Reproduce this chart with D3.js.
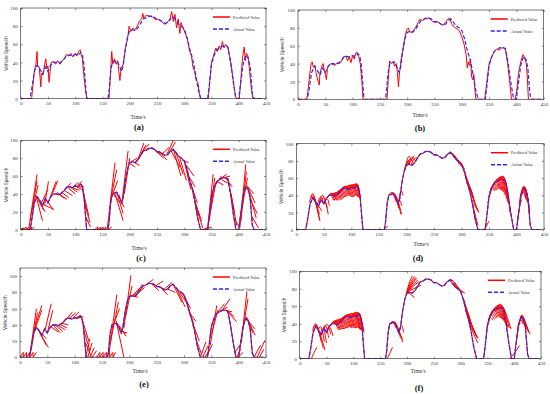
<!DOCTYPE html>
<html>
<head>
<meta charset="utf-8">
<script src="https://cdn.jsdelivr.net/npm/d3@7"></script>
<style>
	body { margin: 0; background: #fff; }
	svg text { font-family: "Liberation Serif", "Times New Roman", serif; }
</style>
</head>
<body>
<div id="svg-container"></div>
<script>

// measured speed, same drive cycle in every panel
var actualTime = [0,17,20,25,30,35,40,45,50,55,60,65,70,75,80,85,90,95,100,105,110,113,116,119,121,160,162,165,168,172,176,180,185,188,192,196,200,205,210,215,220,225,230,235,240,245,250,255,260,265,270,275,280,285,290,295,300,305,310,315,320,325,330,343,346,350,355,360,365,370,375,380,385,390,395,400,403,408,413,418,421,425,428,445];
var actualSpeed = [0,0,10,30,37,33,27,35,30,37,40,40,39,41,44,48,48,47,49,48,51,49,38,15,0,0,8,30,40,41,42,38,30,36,55,68,75,76,75,78,83,88,89,91,91,90,87,87,85,83,84,88,90,86,82,80,77,68,55,45,30,12,0,0,15,38,48,54,56,58,58,57,40,18,0,0,15,38,48,44,35,5,0,0];

var xTicks = [0,50,100,150,200,250,300,350,400,450];
var yTicks = [0,20,40,60,80,100];
var panelLabels = ['(a)','(b)','(c)','(d)','(e)','(f)'];
var legendLabels = ['Predicted Value','Actual Value'];
var xLabel = 'Time/s';
var yLabel = 'Vehicle Speed/h';

// predicted trajectories, each one flat: t, v, t, v, ...
var predA = [
	[0,0,20,0,22,12,25,30,28,38,30,52,31,36,34,35,37,13,38,28,41,26,44,38,46,44,48,33,50,36,52,18,54,30,56,40,60,41,64,38,68,42,72,38,76,42,80,44,84,49,88,47,92,50,96,46,100,50,103,47,106,52,109,54,111,48,113,45,116,25,119,8,122,0,162,0,165,30,167,52,169,38,172,44,175,38,178,42,180,30,182,20,184,33,188,38,192,55,196,66,199,80,202,74,206,78,210,76,214,80,218,86,222,88,224,94,226,88,230,92,236,91,242,90,248,87,252,88,256,86,260,84,265,82,270,85,274,88,277,96,280,85,283,93,286,78,289,88,292,72,294,84,298,78,302,72,306,65,310,52,313,48,316,35,319,30,322,20,325,18,328,5,331,0,344,0,347,20,350,40,354,48,358,56,361,52,364,58,367,54,370,63,373,56,376,60,380,57,383,48,386,38,390,20,394,2,397,0,401,0,404,22,407,45,410,57,412,42,414,50,417,47,420,30,423,12,426,0,440,0]
];

var predB = [
	[0,0,16,0,18,8,21,25,24,40,26,42,28,36,31,38,33,30,35,24,37,20,39,16,40,28,43,36,46,40,48,33,50,28,52,22,54,35,57,38,60,40,64,39,68,38,72,41,76,40,80,43,84,48,88,48,91,43,94,48,97,41,100,49,103,45,106,52,108,53,111,48,114,40,117,20,119,0,163,0,165,20,168,43,171,40,174,42,177,37,180,40,182,30,184,14,186,30,189,45,192,55,196,70,199,78,202,80,205,75,210,76,215,80,220,86,224,90,228,88,232,91,236,90,240,91,245,88,250,86,255,87,260,85,265,83,270,86,275,90,278,91,281,85,284,82,288,80,292,79,296,76,300,70,304,62,308,50,310,35,312,42,314,38,316,45,318,25,320,22,322,28,324,10,326,0,342,0,346,20,350,40,355,48,360,54,364,56,368,55,372,57,376,58,380,55,384,40,388,18,391,0,398,0,401,12,404,30,408,42,412,50,415,47,418,40,420,25,422,0,446,0]
];

var predC = [
	[0,0,5,2,5,0,10,3,10,0,15,3,15,0,20,3,20,0,25,3],
	[136,0,141,3,141,0,146,3,146,0,151,3,151,0,156,3,156,0,161,3,161,0,167,3],
	[15,2,30,62],[17,10,30,55],[20,20,32,50],[28,38,40,10],[30,36,42,22],[33,33,45,20],
	[44,28,51,54],[38,30,50,45],[42,28,60,23],[48,33,60,22],[54,36,65,54],[58,40,68,55],
	[66,42,80,35],[70,40,85,34],[75,42,88,36],[80,44,95,38],[85,48,100,40],[90,48,104,42],
	[95,47,108,44],[100,49,112,45],[105,48,116,48],[82,45,92,52],[96,48,106,53],[104,49,112,54],
	[112,50,120,22],[115,42,125,15],[117,30,127,8],[119,15,128,3],
	[159,2,173,75],[164,30,176,67],[166,35,178,55],
	[172,42,188,10],[176,42,188,18],[180,38,190,25],[170,40,182,30],
	[186,32,197,88],[190,40,200,80],
	[198,75,210,70],[202,76,214,80],[206,76,218,72],[210,75,222,85],
	[216,80,226,97],[220,84,230,95],[224,88,236,96],[230,89,242,92],
	[268,84,280,100],[272,86,284,98],[280,90,294,60],[284,88,298,62],[276,88,292,70],
	[250,87,262,80],[255,87,268,78],[260,85,272,92],[245,90,258,84],
	[292,80,304,55],[296,78,308,75],[300,77,312,45],[304,72,318,60],[308,60,320,48],
	[312,52,324,30],[316,40,328,15],[320,30,332,10],[322,25,334,2],
	[334,0,345,3],[338,0,350,3],
	[343,2,353,62],[346,10,356,58],[348,20,358,52],
	[355,48,368,60],[360,54,372,50],[364,56,378,62],[368,56,380,52],[372,58,384,60],[376,58,388,48],
	[380,57,392,20],[386,40,396,5],[392,12,402,2],
	[402,2,413,73],[404,10,414,65],[406,25,416,58],
	[414,50,428,40],[416,48,430,30],[418,44,432,13],[420,35,434,18],[424,15,436,2]
];

var predD = [
	[24,32,30,42,36,30],[26,36,32,38,42,12],[28,37,34,34,43,10],[30,37,36,30,42,18],
	[33,33,40,28,46,22],[38,28,44,38,50,30],[42,32,48,40,56,25],[46,36,52,35,58,18],[50,30,56,36,60,28],
	[56,37,62,41,68,34],[60,40,66,42,72,35],[64,40,70,42,76,34],[68,39,74,43,80,35],
	[72,40,78,45,84,36],[76,42,82,47,88,38],[80,44,86,49,92,39],[84,47,90,50,96,40],
	[88,48,94,50,100,38],[92,48,98,51,104,38],[96,48,102,52,108,40],[100,49,106,52,112,38],
	[104,48,110,53,115,37],[108,50,112,52,117,35],
	[58,38,64,42,70,34],[62,40,68,42,74,34],[66,40,72,43,78,35],[70,39,76,44,82,35],
	[74,41,80,46,86,37],[78,43,84,48,90,38],[82,46,88,50,94,39],[86,48,92,50,98,39],
	[90,48,96,51,102,38],[94,47,100,52,106,39],[98,48,104,52,110,39],[102,48,108,53,114,37],[106,49,111,52,116,36],
	[158,0,162,2,166,4],
	[168,40,174,43,182,32],[172,41,178,42,186,25],[176,42,182,38,190,18],[180,38,185,33,191,18],
	[184,32,188,34,192,28],[186,32,190,45,194,40],
	[196,68,202,80,206,76],[198,72,204,85,210,80],[200,75,206,82,212,78],[202,76,208,80,214,86],
	[204,76,210,84,216,80],[208,75,214,82,220,84],
	[276,88,284,88,292,80],[280,90,288,86,296,76],[284,86,292,82,300,74],[288,83,296,78,304,70],[292,81,300,76,306,70],
	[306,68,312,55,318,45],[310,55,316,48,322,38],[314,46,318,42,326,28],[316,40,322,35,330,22],
	[320,30,326,26,332,20],[322,25,326,15,330,5],
	[308,62,314,52,320,42],[312,50,317,45,324,33],[318,35,324,30,331,21],
	[342,0,346,5,350,10],
	[348,30,354,48,360,45],[352,44,358,52,364,46],[356,50,362,56,368,48],[360,54,366,58,372,46],
	[364,56,370,60,376,44],[368,56,374,61,380,40],[372,58,378,60,384,33],[376,58,380,56,386,30],[380,56,384,45,388,20],
	[350,38,356,50,362,46],[354,48,360,54,366,47],[358,52,364,57,370,47],[362,55,368,59,374,45],
	[366,56,372,61,378,42],[370,57,376,61,382,36],[374,58,379,58,385,31],
	[402,10,406,28,410,35],[405,30,410,45,416,38],[408,40,413,50,418,34],[411,46,416,48,422,30],
	[414,47,418,45,424,22],[417,44,420,38,424,18],
	[407,36,412,48,417,36],[410,44,415,50,420,32],[413,47,417,47,423,26]
];

var predE = [
	[0,0,6,6,6,0,12,6,12,0,18,6,18,0,24,6,24,0,30,6],
	[140,0,146,6,146,0,152,6,152,0,158,6,158,0,164,6,164,0,170,6,170,0,175,6],
	[18,2,30,60],[20,8,32,55],[24,30,40,64],[28,36,40,58],[30,36,48,23],[34,33,48,15],[38,28,52,12],
	[46,34,57,66],[50,30,60,58],
	[56,38,70,31],[60,40,74,30],[64,40,78,32],[68,40,82,34],[72,41,86,36],[76,42,88,40],
	[84,46,96,56],[90,48,102,55],[96,48,108,56],[100,48,112,52],[104,48,116,50],
	[113,48,126,20],[116,35,128,8],[118,20,130,2],
	[120,0,128,23],[124,0,132,18],[128,0,136,12],[132,0,140,8],
	[163,5,177,77],[166,20,180,68],[168,35,182,60],
	[176,45,190,0],[178,42,192,28],[182,38,194,26],[185,32,196,30],
	[190,36,203,101],[193,50,205,88],
	[198,74,212,78],[202,76,216,74],[206,76,220,86],[210,75,224,90],[214,78,228,86],
	[230,89,244,96],[240,91,254,82],[248,88,262,94],[256,87,270,77],[264,84,278,92],[270,84,284,80],
	[280,90,296,68],[286,86,302,62],[292,80,308,64],[298,78,312,60],[304,70,318,40],
	[310,55,322,44],[316,42,328,20],[322,22,332,4],
	[330,0,340,19],[334,0,344,14],[338,0,346,8],[342,2,352,16],
	[348,15,360,64],[350,28,362,58],
	[360,54,374,66],[366,56,380,62],[370,58,384,72],[374,58,388,56],[378,58,392,50],[380,56,396,44],
	[392,5,402,15],[396,0,404,10],[399,0,408,6],
	[405,18,415,81],[408,35,417,72],
	[414,50,426,30],[416,48,430,27],[418,44,430,35],
	[428,0,440,15],[434,0,448,21],[438,0,446,10]
];

var predF = [
	[22,0,26,6,32,13],
	[24,32,30,40,36,30],[26,35,32,38,40,20],[28,37,35,32,44,12],[30,37,38,28,47,10],
	[34,32,40,36,46,20],[38,27,44,34,50,18],[42,30,48,38,54,24],[46,35,52,39,58,28],[50,30,56,36,62,26],
	[56,37,64,42,72,33],[60,40,68,43,76,33],[64,40,72,44,80,34],[68,39,76,45,84,34],
	[72,40,80,46,88,35],[76,42,84,48,92,36],[80,44,88,49,96,35],[84,47,92,50,100,36],
	[88,48,96,50,104,35],[92,48,100,51,108,36],[96,48,104,51,112,34],[100,49,106,52,114,33],
	[104,48,110,52,118,32],[108,50,113,50,120,30],
	[58,38,66,43,74,33],[62,40,70,44,78,34],[66,40,74,45,82,34],[70,39,78,46,86,35],
	[74,41,82,47,90,35],[78,43,86,49,94,36],[82,46,90,50,98,35],[86,48,94,50,102,35],
	[90,48,98,51,106,35],[94,47,102,51,110,35],[98,48,105,52,113,33],[102,48,108,52,116,32],[106,49,112,51,119,31],
	[163,0,168,6,173,13],
	[166,35,172,42,180,35],[170,40,176,42,184,30],[174,41,180,38,188,24],[178,42,184,34,192,19],
	[182,36,186,30,192,22],[186,32,190,38,194,30],
	[198,72,204,86,210,95],[199,74,206,86,214,94],[200,75,208,84,218,92],[201,76,210,82,222,88],
	[202,76,212,80,226,84],[200,76,206,74,214,70],[201,76,206,80,212,78],
	[199,75,207,85,216,93],[200,76,209,83,220,90],
	[276,88,284,90,292,82],[280,90,288,88,296,80],[284,86,292,84,300,78],[288,83,296,80,304,76],[292,81,300,78,308,75],
	[306,68,312,55,318,42],[308,62,314,52,322,35],[310,55,316,46,326,30],[312,50,318,42,330,25],
	[314,46,320,38,333,23],[316,40,322,32,332,18],
	[309,58,315,50,324,32],[311,52,317,44,328,28],[313,48,319,40,331,24],
	[348,30,354,46,360,44],[352,44,358,52,366,46],[356,50,362,56,370,48],[360,54,366,58,376,46],
	[364,56,370,60,380,44],[368,56,374,61,384,40],[372,58,378,60,388,36],[376,58,382,56,394,34],
	[350,38,356,50,363,45],[354,48,360,54,368,47],[358,52,364,57,373,47],[362,55,368,59,378,45],
	[366,56,372,61,382,42],[370,57,376,61,386,38],[374,58,380,58,391,35],
	[392,0,400,6,410,15],
	[404,20,408,38,412,40],[406,32,411,44,416,40],[409,40,414,48,420,38],[412,47,416,49,424,35],
	[415,47,419,44,428,30],[418,44,422,36,430,28],
	[408,38,413,46,418,39],[411,45,415,49,422,36],[414,47,418,46,426,32]
];

var predictions = [predA, predB, predC, predD, predE, predF];

// panel boxes in page pixels
var layout = [
	{ x0: 20.7,  x1: 266,   y0: 8,     y1: 98.7,  yMax: 100, smooth: false, base: false, timeX: 138, timeY: 119, labX: 139, labY: 130, yLabX: 8 },
	{ x0: 298,   x1: 543.7, y0: 10,    y1: 99.3,  yMax: 100, smooth: false, base: false, timeX: 420, timeY: 117, labX: 420, labY: 131, yLabX: 284 },
	{ x0: 20.7,  x1: 266,   y0: 140.3, y1: 229.7, yMax: 100, smooth: false, base: true,  timeX: 139, timeY: 250, labX: 141, labY: 261, yLabX: 8 },
	{ x0: 296.3, x1: 544,   y0: 143.7, y1: 229.7, yMax: 100, smooth: true,  base: true,  timeX: 421, timeY: 246, labX: 418, labY: 261, yLabX: 283 },
	{ x0: 20,    x1: 266,   y0: 268,   y1: 357.3, yMax: 110, smooth: false, base: true,  timeX: 140, timeY: 373, labX: 144, labY: 387, yLabX: 7 },
	{ x0: 299.7, x1: 541,   y0: 271.3, y1: 358.7, yMax: 100, smooth: true,  base: true,  timeX: 418, timeY: 373, labX: 419, labY: 391, yLabX: 286 }
];

var red = '#ff0000';
var blue = '#2a2af5';

var svg = d3.select('#svg-container')
	.append('svg')
	.attr('width', 550)
	.attr('height', 394);

var actualPoints = actualTime.map(function(t, i) { return [t, actualSpeed[i]]; });

function toPairs(flat) {
	var pts = [];
	for (var i = 0; i < flat.length; i += 2) pts.push([flat[i], flat[i + 1]]);
	return pts;
}

function drawPanel(p, i) {
	var x = d3.scaleLinear().domain([0, 450]).range([p.x0, p.x1]);
	var y = d3.scaleLinear().domain([0, p.yMax]).range([p.y1, p.y0]);

	var g = svg.append('g').attr('class', 'panel');

	g.append('clipPath')
		.attr('id', 'clip' + i)
		.append('rect')
			.attr('x', p.x0)
			.attr('y', p.y0)
			.attr('width', p.x1 - p.x0)
			.attr('height', p.y1 - p.y0);

	var plot = g.append('g').attr('clip-path', 'url(#clip' + i + ')');

	var straight = d3.line()
		.x(function(d) { return x(d[0]); })
		.y(function(d) { return y(d[1]); });

	var curved = d3.line()
		.x(function(d) { return x(d[0]); })
		.y(function(d) { return y(d[1]); })
		.curve(d3.curveNatural);

	if (p.base) {
		plot.append('path')
			.attr('d', straight(actualPoints))
			.attr('fill', 'none')
			.attr('stroke', red)
			.attr('stroke-width', 1.1);
	}

	predictions[i].forEach(function(flat) {
		var pts = toPairs(flat);
		var gen = (p.smooth && pts.length === 3) ? curved : straight;
		plot.append('path')
			.attr('d', gen(pts))
			.attr('fill', 'none')
			.attr('stroke', red)
			.attr('stroke-width', 1);
	});

	plot.append('path')
		.attr('d', straight(actualPoints))
		.attr('fill', 'none')
		.attr('stroke', blue)
		.attr('stroke-width', 1.2)
		.attr('stroke-dasharray', '4,2');

	// axes, ticks point inwards on all four sides
	var bottom = g.append('g')
		.attr('transform', 'translate(0,' + p.y1 + ')')
		.call(d3.axisBottom(x).tickValues(xTicks).tickSize(-2).tickPadding(3));
	var top = g.append('g')
		.attr('transform', 'translate(0,' + p.y0 + ')')
		.call(d3.axisTop(x).tickValues(xTicks).tickSize(-2).tickFormat(''));
	var left = g.append('g')
		.attr('transform', 'translate(' + p.x0 + ',0)')
		.call(d3.axisLeft(y).tickValues(yTicks).tickSize(-2).tickPadding(3));
	var right = g.append('g')
		.attr('transform', 'translate(' + p.x1 + ',0)')
		.call(d3.axisRight(y).tickValues(yTicks).tickSize(-2).tickFormat(''));

	[bottom, top, left, right].forEach(function(a) {
		a.select('.domain').remove();
		a.selectAll('.tick line').attr('stroke', '#222').attr('stroke-width', 0.5);
		a.selectAll('.tick text')
			.attr('fill', '#333')
			.style('font-size', '5px')
			.style('font-family', '"Liberation Serif", serif');
	});

	g.append('rect')
		.attr('x', p.x0)
		.attr('y', p.y0)
		.attr('width', p.x1 - p.x0)
		.attr('height', p.y1 - p.y0)
		.attr('fill', 'none')
		.attr('stroke', '#222')
		.attr('stroke-width', 0.6);

	// legend
	var lx = p.x1 - 53;
	var ly = [p.y0 + 9, p.y0 + 21];
	g.append('line')
		.attr('x1', lx).attr('x2', lx + 17)
		.attr('y1', ly[0]).attr('y2', ly[0])
		.attr('stroke', red)
		.attr('stroke-width', 1.5);
	g.append('line')
		.attr('x1', lx).attr('x2', lx + 17)
		.attr('y1', ly[1]).attr('y2', ly[1])
		.attr('stroke', blue)
		.attr('stroke-width', 1.5)
		.attr('stroke-dasharray', '4,2');
	legendLabels.forEach(function(txt, k) {
		g.append('text')
			.attr('x', lx + 20)
			.attr('y', ly[k] + 1.5)
			.attr('fill', '#333')
			.style('font-size', '4.3px')
			.text(txt);
	});

	g.append('text')
		.attr('x', p.timeX)
		.attr('y', p.timeY)
		.attr('text-anchor', 'middle')
		.attr('fill', '#333')
		.style('font-size', '5.5px')
		.text(xLabel);

	g.append('text')
		.attr('transform', 'translate(' + p.yLabX + ',' + ((p.y0 + p.y1) / 2) + ') rotate(-90)')
		.attr('text-anchor', 'middle')
		.attr('fill', '#444')
		.style('font-size', '4.8px')
		.style('font-family', '"Liberation Sans", sans-serif')
		.text(yLabel);

	g.append('text')
		.attr('x', p.labX)
		.attr('y', p.labY)
		.attr('text-anchor', 'middle')
		.attr('fill', '#111')
		.style('font-size', '8.5px')
		.style('font-weight', 'bold')
		.text(panelLabels[i]);
}

layout.forEach(function(p, i) { drawPanel(p, i); });

</script>
</body>
</html>
